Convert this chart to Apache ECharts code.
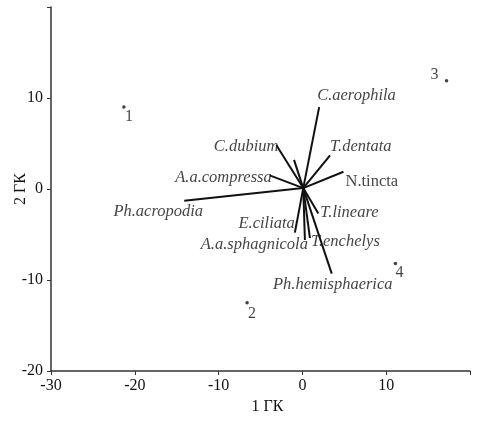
<!DOCTYPE html>
<html><head><meta charset="utf-8">
<script src="https://cdn.jsdelivr.net/npm/echarts@6/dist/echarts.min.js"></script>
<style>html,body{margin:0;padding:0;background:#fff}#c{width:479px;height:427px}</style>
</head><body><div id="c"></div>
<script>
// Sample sites (ordination scores)
const siteNames = ['1', '2', '3', '4'];
const siteX = [-21.3, -6.6, 17.2, 11.1];
const siteY = [9.0, -12.5, 11.9, -8.2];

// Species vectors (from origin)
const speciesNames = ['C.aerophila', 'C.dubium', '', 'T.dentata', 'N.tincta', 'A.a.compressa', 'Ph.acropodia',
  'T.lineare', 'E.ciliata', 'A.a.sphagnicola', 'T.enchelys', 'Ph.hemisphaerica'];
const speciesX = [2.0, -3.1, -1.0, 3.3, 4.9, -3.9, -14.1, 1.9, -0.9, 0.3, 0.9, 3.5];
const speciesY = [9.0, 4.8, 3.2, 3.7, 1.9, 1.5, -1.3, -2.7, -4.8, -5.6, -5.4, -9.3];
const vectorOrigin = [0.1, 0.1];

const xTickLabels = ['-30', '-20', '-10', '0', '10'];
const yTickLabels = ['-20', '-10', '0', '10'];

// label styling (placement only)
const speciesLabelStyle = [
  {align: 'left', offset: [-2, -11], italic: true},
  {align: 'right', offset: [2, 1], italic: true},
  null,
  {align: 'left', offset: [0, -9], italic: true},
  {align: 'left', offset: [2, 10], italic: false},
  {align: 'right', offset: [2, 2], italic: true},
  {align: 'center', offset: [-26, 11], italic: true},
  {align: 'left', offset: [2, -1], italic: true},
  {align: 'right', offset: [0, -9], italic: true},
  {align: 'right', offset: [3, 5], italic: true},
  {align: 'left', offset: [1, 4], italic: true},
  {align: 'center', offset: [1, 11], italic: true}
];
const siteLabelOffset = [[5, 10], [5, 11], [-12, -6], [4, 9]];

const FONT = '"Liberation Serif", "DejaVu Serif", serif';

const lineData = speciesNames.map((n, i) => ({coords: [vectorOrigin, [speciesX[i], speciesY[i]]]}));
const labelData = speciesNames.map((n, i) => {
  const s = speciesLabelStyle[i];
  return {
    name: n, value: [speciesX[i], speciesY[i]],
    label: s ? {show: true, formatter: n, align: s.align, verticalAlign: 'middle', position: 'inside',
      offset: s.offset, fontStyle: s.italic ? 'italic' : 'normal'} : {show: false}
  };
});
const siteData = siteNames.map((n, i) => ({
  name: n, value: [siteX[i], siteY[i]],
  label: {show: true, formatter: n, position: 'inside', offset: siteLabelOffset[i]}
}));

const chart = echarts.init(document.getElementById('c'));
chart.setOption({
  animation: false,
  backgroundColor: '#fff',
  grid: {left: 51, right: 9, top: 7, bottom: 56, outerBoundsMode: 'none', containLabel: false},
  xAxis: {
    type: 'value', min: -30, max: 20, interval: 10,
    name: '1 ГК', nameLocation: 'middle', nameGap: 27,
    nameTextStyle: {fontFamily: FONT, fontSize: 16, color: '#111', padding: [0, 0, 0, 14]},
    axisLine: {onZero: false, lineStyle: {color: '#333', width: 1.5}},
    axisTick: {show: true, length: 4, lineStyle: {color: '#333'}},
    axisLabel: {fontFamily: FONT, fontSize: 16, color: '#111', margin: 7,
      formatter: v => xTickLabels.includes(String(v)) ? String(v) : ''},
    splitLine: {show: false}
  },
  yAxis: {
    type: 'value', min: -20, max: 20, interval: 10,
    name: '2 ГК', nameLocation: 'middle', nameGap: 22, nameRotate: 90, nameMoveOverlap: false,
    nameTextStyle: {fontFamily: FONT, fontSize: 16, color: '#111'},
    axisLine: {onZero: false, lineStyle: {color: '#333', width: 1.5}},
    axisTick: {show: true, length: 4, lineStyle: {color: '#333'}},
    axisLabel: {fontFamily: FONT, fontSize: 16, color: '#111', margin: 8,
      formatter: v => yTickLabels.includes(String(v)) ? String(v) : ''},
    splitLine: {show: false}
  },
  series: [
    {
      type: 'lines', coordinateSystem: 'cartesian2d', data: lineData,
      lineStyle: {color: '#111', width: 2, opacity: 1}, silent: true, z: 2
    },
    {
      type: 'scatter', data: labelData, symbolSize: 0, z: 3,
      label: {color: '#111', fontFamily: FONT, fontSize: 16.5}
    },
    {
      type: 'scatter', data: siteData, symbol: 'circle', symbolSize: 3.5, z: 4,
      itemStyle: {color: '#111'},
      label: {color: '#111', fontFamily: FONT, fontSize: 16}
    }
  ]
});
</script></body></html>
